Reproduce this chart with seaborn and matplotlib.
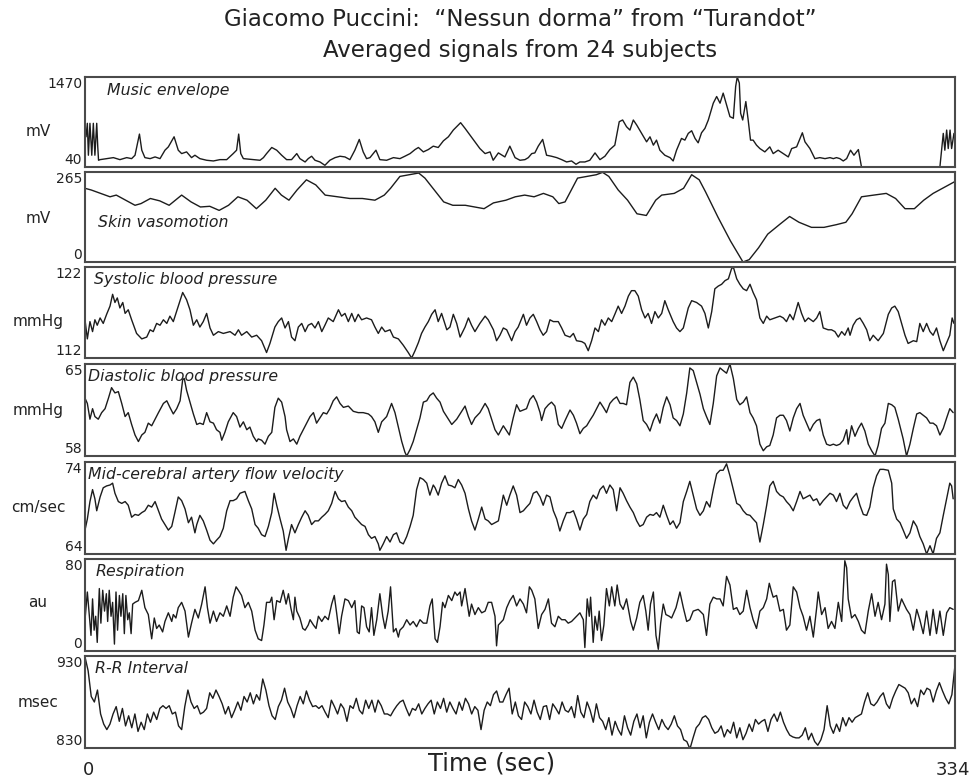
import numpy as np
import matplotlib
matplotlib.use("Agg")
import matplotlib.pyplot as plt
import seaborn as sns

sns.set_theme(style="white")
plt.rcParams["font.family"] = ["DejaVu Sans"]

# ---- averaged signals: (time in s, value) ----
music = [
    (0.4, 520), (0.9, 734), (1.3, 227), (1.9, 734), (2.6, 227), (3.2, 734), (3.8, 227), (4.5, 734),
    (4.9, 360), (5.2, 147), (5.8, 157), (8.3, 173), (10.9, 189), (13.4, 157), (16.0, 189), (17.9, 173),
    (19.2, 227), (20.9, 563), (21.8, 307), (23.0, 189), (25.0, 173), (26.9, 200), (28.8, 173), (30.7, 307),
    (32.0, 360), (34.2, 520), (35.8, 307), (37.1, 253), (39.0, 280), (40.9, 189), (42.2, 227), (44.1, 173),
    (46.7, 147), (49.3, 136), (51.8, 157), (54.4, 157), (56.9, 253), (58.2, 307), (59.0, 563), (59.8, 253),
    (60.8, 173), (64.6, 157), (67.2, 147), (68.5, 189), (69.7, 253), (71.7, 350), (73.6, 307), (75.5, 227),
    (77.4, 157), (79.3, 157), (81.3, 253), (82.5, 173), (84.5, 120), (85.7, 173), (87.0, 211), (88.3, 147),
    (90.2, 120), (92.1, 67), (94.0, 147), (96.0, 189), (97.9, 211), (99.8, 200), (101.7, 157), (103.6, 307),
    (105.3, 478), (106.8, 280), (108.1, 173), (109.4, 189), (111.7, 307), (113.2, 157), (115.8, 147),
    (118.4, 189), (120.9, 173), (122.8, 211), (124.8, 253), (126.7, 317), (128.0, 350), (129.9, 280),
    (131.8, 317), (133.7, 371), (135.6, 350), (137.6, 456), (139.5, 520), (141.4, 627), (143.3, 707),
    (144.2, 744), (145.9, 654), (147.8, 547), (149.7, 440), (151.6, 333), (153.6, 253), (155.5, 280),
    (156.7, 147), (158.7, 264), (161.2, 200), (163.1, 371), (165.1, 189), (167.0, 147), (168.9, 157),
    (170.2, 189), (171.5, 253), (172.7, 264), (174.0, 371), (175.7, 478), (177.2, 227), (179.1, 211),
    (181.1, 189), (183.0, 157), (184.9, 120), (186.8, 136), (188.5, 83), (190.0, 120), (191.9, 120),
    (193.8, 147), (195.8, 264), (197.7, 157), (199.6, 211), (201.5, 317), (203.4, 387), (205.1, 760),
    (206.4, 787), (207.9, 680), (209.2, 627), (210.5, 787), (211.8, 707), (213.7, 574), (215.6, 440),
    (216.9, 520), (218.2, 387), (219.4, 467), (220.7, 307), (222.6, 227), (224.6, 189), (225.8, 136),
    (227.1, 307), (229.0, 494), (230.3, 467), (231.6, 574), (232.9, 616), (234.2, 494), (235.4, 424),
    (236.7, 584), (238.0, 654), (239.3, 787), (241.2, 1054), (242.5, 1160), (243.8, 1054), (245.0, 1214),
    (246.3, 1027), (247.6, 840), (248.9, 814), (249.8, 1321), (250.4, 1470), (251.2, 1374), (251.7, 894),
    (252.5, 787), (253.7, 1080), (254.6, 787), (255.5, 467), (256.5, 467), (257.8, 387), (259.1, 333),
    (261.0, 280), (262.9, 360), (264.2, 253), (266.1, 307), (268.1, 253), (270.0, 200), (271.3, 333),
    (273.2, 360), (275.4, 584), (276.4, 440), (278.3, 333), (280.2, 173), (282.1, 189), (284.1, 173),
    (286.0, 189), (287.3, 173), (288.5, 189), (289.8, 173), (291.1, 136), (292.4, 173), (293.9, 307),
    (295.2, 227), (296.9, 317), (298.1, 40), (328.2, 40), (329.5, 574), (330.1, 307), (330.8, 627),
    (331.4, 333), (332.1, 627), (332.7, 333), (333.6, 574),
]

skin = [
    (0.0, 217), (2.4, 212), (6.0, 202), (9.6, 192), (12.0, 197), (15.6, 182), (19.2, 167), (21.5, 172),
    (25.1, 187), (28.7, 180), (32.3, 167), (37.1, 197), (40.7, 177), (44.3, 162), (47.9, 164), (51.5, 152),
    (55.1, 167), (58.7, 192), (62.2, 182), (65.8, 157), (69.4, 182), (73.0, 217), (75.4, 197), (78.3, 182),
    (81.4, 212), (85.0, 242), (88.6, 227), (92.2, 197), (97.0, 192), (101.7, 187), (106.5, 187),
    (111.3, 182), (114.9, 197), (117.3, 217), (120.9, 252), (124.5, 257), (128.1, 262), (130.5, 247),
    (134.1, 212), (137.7, 177), (141.2, 167), (146.0, 167), (149.6, 162), (153.2, 157), (156.8, 174),
    (161.6, 182), (165.2, 192), (168.8, 197), (172.4, 192), (176.0, 202), (179.6, 192), (181.9, 172),
    (184.3, 177), (186.7, 212), (189.1, 247), (192.7, 252), (196.3, 257), (198.7, 264), (201.1, 252),
    (204.7, 212), (208.3, 182), (211.9, 142), (215.5, 137), (219.1, 182), (221.4, 197), (226.2, 202),
    (229.8, 217), (232.9, 257), (235.8, 242), (238.2, 207), (243.0, 132), (247.8, 62), (252.6, 0),
    (255.0, 7), (258.6, 42), (262.1, 82), (266.9, 112), (270.5, 134), (274.1, 117), (278.9, 102),
    (283.7, 102), (288.5, 110), (292.1, 117), (294.5, 142), (298.1, 192), (302.8, 197), (307.6, 202),
    (311.2, 187), (314.8, 157), (318.4, 157), (322.0, 182), (325.6, 202), (329.2, 217), (334.0, 237),
]

systolic = [
    (0.0, 116.2), (0.9, 114.1), (1.9, 116.0), (2.9, 114.9), (3.8, 116.2), (4.7, 115.6), (5.8, 116.4),
    (7.0, 115.8), (8.3, 116.8), (9.6, 117.7), (10.6, 119.0), (11.5, 118.1), (12.4, 118.6), (13.4, 117.5),
    (14.5, 118.1), (15.4, 116.9), (16.6, 117.3), (17.9, 116.2), (19.8, 114.7), (21.8, 114.1), (23.7, 114.3),
    (25.0, 115.1), (26.2, 114.9), (27.5, 115.8), (28.8, 115.6), (30.1, 116.2), (31.4, 115.8), (32.6, 116.6),
    (33.9, 116.0), (35.8, 117.7), (37.5, 119.2), (39.0, 118.4), (40.3, 117.3), (41.6, 115.6), (42.9, 116.2),
    (44.1, 115.4), (45.4, 116.0), (46.7, 116.9), (48.0, 115.3), (49.3, 114.5), (51.2, 114.9), (53.1, 114.7),
    (55.7, 114.9), (57.6, 114.5), (58.9, 115.1), (60.1, 114.5), (62.1, 114.9), (64.0, 114.3), (65.9, 114.5),
    (67.8, 113.9), (69.7, 112.6), (71.0, 113.6), (72.9, 115.4), (74.2, 116.0), (75.5, 116.4), (76.8, 115.3),
    (78.1, 116.0), (79.3, 114.3), (80.6, 113.9), (81.9, 115.4), (83.2, 115.8), (84.5, 114.9), (85.7, 115.6),
    (87.0, 115.8), (88.3, 115.3), (89.6, 116.0), (90.9, 114.9), (92.1, 115.6), (93.4, 116.4), (95.3, 116.0),
    (97.3, 117.3), (98.5, 116.6), (99.8, 116.9), (101.1, 116.0), (102.4, 116.9), (103.6, 116.0),
    (104.9, 116.8), (106.2, 116.2), (108.1, 116.4), (110.0, 116.2), (111.3, 115.4), (112.6, 114.7),
    (113.9, 115.4), (115.2, 114.9), (117.1, 115.1), (118.4, 114.3), (120.3, 114.1), (122.2, 113.4),
    (124.1, 112.6), (125.4, 112.0), (126.7, 112.8), (128.0, 113.7), (129.2, 114.7), (130.5, 115.4),
    (131.8, 116.0), (133.1, 116.8), (134.4, 117.3), (135.6, 116.0), (136.9, 116.9), (138.9, 115.1),
    (140.1, 115.4), (141.4, 116.8), (142.7, 115.8), (144.0, 114.3), (145.9, 115.4), (147.2, 116.4),
    (148.4, 115.6), (149.7, 114.9), (151.6, 115.8), (153.6, 116.6), (154.8, 116.2), (156.8, 115.1),
    (158.0, 113.9), (159.3, 114.5), (160.6, 115.3), (161.9, 115.1), (163.8, 113.9), (165.1, 114.9),
    (166.3, 115.4), (168.3, 116.8), (169.5, 115.6), (170.8, 116.4), (172.1, 116.8), (173.4, 116.0),
    (174.7, 115.1), (175.9, 114.5), (177.2, 114.9), (178.5, 116.2), (179.8, 116.0), (181.7, 116.0),
    (183.0, 115.3), (184.3, 114.5), (186.2, 114.3), (187.5, 114.7), (188.7, 113.9), (190.7, 113.8),
    (191.9, 113.6), (193.2, 112.8), (194.5, 113.9), (195.8, 115.3), (197.1, 114.9), (198.3, 116.2),
    (199.6, 115.6), (200.9, 116.4), (202.2, 116.0), (203.4, 116.8), (204.7, 117.7), (206.0, 116.9),
    (207.3, 117.7), (208.6, 118.8), (209.8, 119.4), (211.1, 119.4), (212.4, 118.8), (213.7, 117.3),
    (215.0, 116.4), (216.2, 116.9), (217.5, 115.8), (218.8, 117.1), (220.1, 116.4), (221.4, 116.9),
    (222.6, 118.3), (223.9, 117.3), (225.8, 116.0), (227.1, 115.3), (228.4, 114.9), (229.7, 115.3),
    (231.6, 117.5), (232.9, 118.3), (234.8, 118.1), (236.7, 117.7), (238.0, 116.9), (239.3, 115.3),
    (240.6, 117.1), (241.8, 119.6), (243.1, 119.9), (244.4, 120.1), (245.7, 120.5), (247.0, 120.7),
    (248.2, 121.8), (248.9, 122.0), (250.2, 120.7), (251.4, 120.1), (252.7, 119.6), (254.0, 119.4),
    (255.3, 120.1), (256.5, 119.2), (257.8, 118.4), (259.1, 116.4), (260.4, 115.8), (261.7, 116.6),
    (262.9, 116.2), (264.9, 116.4), (266.8, 116.6), (268.1, 116.4), (269.3, 116.0), (270.6, 116.8),
    (271.9, 116.2), (273.8, 118.1), (275.1, 116.9), (276.4, 116.0), (277.7, 116.4), (279.6, 116.0),
    (280.9, 116.4), (282.1, 117.1), (283.4, 115.3), (285.3, 115.1), (286.6, 115.1), (287.9, 114.9),
    (289.2, 114.3), (290.5, 114.9), (291.7, 114.5), (293.0, 115.3), (293.7, 114.5), (294.9, 115.6),
    (296.2, 116.2), (297.5, 116.4), (298.8, 115.8), (300.1, 115.1), (301.3, 113.9), (302.6, 114.5),
    (304.5, 113.9), (306.5, 114.7), (308.4, 116.8), (309.7, 117.5), (310.9, 117.7), (312.2, 117.1),
    (313.5, 115.8), (314.8, 114.5), (316.0, 113.6), (318.0, 113.9), (319.3, 113.8), (320.5, 115.8),
    (321.8, 114.9), (323.1, 115.8), (324.4, 114.9), (325.6, 114.5), (326.9, 115.3), (328.2, 113.9),
    (329.5, 112.8), (330.8, 113.7), (332.0, 114.5), (332.9, 116.4), (333.6, 115.8),
]

diastolic = [
    (0.0, 62.4), (0.9, 62.0), (1.9, 60.8), (2.9, 61.6), (3.8, 61.0), (5.1, 60.8), (6.4, 61.3), (7.7, 61.6),
    (9.0, 62.4), (10.2, 63.2), (11.5, 62.8), (12.8, 62.9), (14.1, 62.0), (15.4, 61.0), (16.6, 61.3),
    (17.9, 60.4), (19.2, 59.6), (20.5, 59.1), (21.8, 59.6), (23.0, 59.8), (24.3, 60.5), (25.6, 60.3),
    (26.9, 60.8), (28.2, 61.3), (30.1, 62.0), (31.4, 62.2), (32.6, 61.7), (33.9, 61.2), (35.2, 61.6),
    (36.5, 62.2), (37.5, 63.8), (38.1, 63.9), (39.0, 63.0), (40.3, 62.1), (41.6, 61.2), (42.9, 60.4),
    (44.1, 60.5), (45.4, 60.4), (46.7, 61.3), (48.0, 60.6), (49.3, 60.5), (50.5, 60.0), (51.8, 59.8),
    (52.5, 59.2), (53.7, 59.8), (55.0, 60.6), (56.9, 61.3), (58.2, 61.0), (59.5, 60.2), (60.8, 60.6),
    (62.1, 60.0), (63.3, 60.2), (64.6, 59.5), (65.9, 59.1), (66.5, 59.3), (67.8, 59.2), (69.1, 58.9),
    (70.4, 59.5), (71.7, 59.8), (72.9, 61.7), (74.2, 62.4), (75.5, 62.1), (76.8, 61.0), (77.4, 60.0),
    (78.7, 59.1), (80.0, 59.3), (81.3, 58.9), (82.5, 59.5), (83.8, 60.0), (85.1, 60.5), (86.4, 61.0),
    (87.7, 61.3), (88.9, 60.5), (90.2, 60.9), (91.5, 61.3), (92.8, 61.2), (94.0, 61.6), (95.3, 62.2),
    (96.6, 62.5), (97.9, 62.0), (99.2, 61.7), (101.1, 61.8), (103.0, 61.4), (104.9, 61.3), (106.8, 61.3),
    (108.8, 61.2), (110.0, 61.0), (111.3, 60.6), (112.6, 59.8), (113.9, 60.6), (115.8, 61.0),
    (117.7, 62.0), (119.0, 61.3), (120.3, 60.2), (121.6, 59.1), (122.8, 58.3), (123.5, 58.0),
    (124.8, 58.5), (126.0, 59.1), (127.3, 60.0), (128.6, 60.9), (129.9, 62.1), (131.2, 62.2),
    (132.4, 62.6), (133.7, 62.8), (135.0, 62.4), (136.3, 62.1), (137.6, 61.4), (139.5, 60.8),
    (140.8, 60.4), (142.7, 60.8), (144.6, 61.4), (145.9, 61.8), (147.2, 61.0), (148.4, 60.4),
    (149.7, 60.9), (151.6, 61.3), (153.6, 62.0), (154.8, 61.6), (156.1, 60.8), (157.4, 60.0),
    (158.7, 59.6), (160.6, 60.3), (162.9, 59.6), (164.4, 60.9), (165.7, 61.9), (167.0, 61.4),
    (168.3, 61.5), (169.5, 61.6), (170.8, 62.3), (172.1, 62.6), (173.4, 62.1), (174.7, 61.3),
    (175.3, 60.7), (176.6, 61.6), (177.9, 61.9), (179.1, 62.1), (180.4, 61.8), (181.7, 60.4),
    (183.0, 60.1), (184.3, 60.7), (186.2, 61.5), (187.5, 61.1), (188.7, 60.5), (190.0, 59.7),
    (191.3, 60.1), (192.6, 60.3), (193.8, 60.7), (195.1, 61.1), (196.4, 61.6), (197.7, 62.1),
    (199.0, 61.7), (200.2, 61.3), (201.5, 62.0), (202.8, 62.3), (204.1, 62.5), (205.4, 62.0),
    (206.6, 62.0), (207.9, 61.9), (209.2, 63.6), (210.5, 64.0), (211.8, 63.5), (213.0, 62.3),
    (214.3, 60.7), (215.6, 60.4), (216.9, 59.9), (218.2, 60.7), (219.4, 61.2), (220.7, 60.5),
    (222.0, 61.7), (223.3, 62.5), (224.6, 61.9), (225.8, 60.9), (227.1, 60.7), (228.4, 60.3),
    (229.7, 61.2), (231.0, 62.8), (232.2, 64.7), (233.5, 64.5), (234.8, 63.6), (236.1, 62.7),
    (237.4, 61.6), (238.6, 61.0), (239.9, 60.4), (241.2, 62.0), (242.5, 64.1), (243.8, 64.7),
    (245.0, 64.5), (246.3, 64.3), (247.6, 65.0), (248.9, 63.9), (250.2, 62.3), (251.4, 61.9),
    (252.7, 62.1), (254.0, 62.5), (255.3, 61.3), (256.5, 60.9), (257.8, 60.3), (259.1, 58.9),
    (260.4, 58.4), (261.7, 58.7), (262.9, 58.8), (264.2, 59.6), (265.5, 60.9), (266.8, 61.1),
    (268.1, 61.1), (269.3, 60.7), (270.6, 59.9), (271.9, 60.9), (273.2, 61.6), (274.5, 62.0),
    (275.7, 61.1), (277.0, 60.5), (278.3, 59.9), (279.6, 60.4), (280.9, 60.7), (282.1, 60.8),
    (283.4, 59.6), (284.7, 58.9), (286.0, 58.8), (287.3, 58.9), (288.5, 58.8), (289.8, 58.9),
    (291.1, 59.2), (292.4, 60.0), (293.0, 58.9), (294.3, 60.3), (295.6, 59.5), (296.9, 60.1),
    (298.1, 60.5), (299.4, 59.9), (300.7, 58.9), (302.0, 58.4), (303.3, 58.0), (304.5, 58.8),
    (305.8, 60.1), (307.1, 60.5), (308.4, 62.0), (309.7, 61.9), (310.9, 61.7), (312.2, 60.8),
    (314.1, 59.3), (315.4, 58.0), (316.7, 58.9), (318.0, 60.1), (319.3, 61.2), (320.5, 61.3),
    (321.8, 61.1), (323.1, 60.9), (324.4, 60.5), (325.6, 60.5), (326.9, 60.3), (328.2, 59.6),
    (329.5, 60.1), (330.8, 60.9), (332.0, 61.6), (333.3, 61.3),
]

mca = [
    (0.0, 66.6), (0.9, 67.8), (1.9, 69.7), (2.9, 71.0), (3.8, 70.0), (4.5, 68.7), (5.8, 70.2), (7.0, 71.2),
    (8.3, 71.4), (9.6, 71.5), (10.6, 71.7), (11.5, 70.6), (12.8, 69.7), (14.1, 69.5), (15.4, 69.7),
    (16.6, 69.3), (17.9, 68.0), (19.2, 68.3), (20.5, 68.2), (21.8, 68.5), (23.0, 68.7), (24.3, 69.3),
    (25.6, 69.1), (26.9, 69.7), (28.2, 68.7), (29.4, 67.8), (30.7, 67.2), (32.0, 66.6), (33.3, 67.0),
    (34.5, 68.5), (35.8, 70.2), (37.1, 69.8), (38.4, 68.9), (39.7, 67.4), (40.9, 68.0), (42.2, 66.3),
    (42.9, 67.2), (44.1, 68.2), (45.4, 67.6), (46.7, 66.6), (48.0, 65.5), (49.3, 65.1), (50.5, 65.5),
    (51.8, 65.9), (53.1, 66.8), (54.4, 68.7), (55.7, 69.8), (56.9, 69.8), (58.2, 70.0), (59.5, 70.6),
    (61.4, 70.8), (62.7, 69.8), (64.0, 68.9), (65.3, 67.2), (66.5, 66.8), (67.8, 66.1), (69.1, 65.9),
    (70.4, 67.0), (71.7, 68.5), (72.6, 70.6), (73.6, 69.3), (74.9, 67.8), (76.1, 66.5), (77.2, 64.4),
    (78.1, 65.7), (79.3, 67.2), (80.6, 66.3), (81.9, 67.2), (83.2, 68.0), (84.5, 68.7), (85.7, 68.2),
    (87.0, 67.2), (88.3, 67.6), (89.6, 67.6), (90.9, 68.0), (92.1, 68.3), (93.4, 68.7), (94.7, 69.5),
    (96.0, 70.8), (97.3, 70.0), (98.5, 69.7), (99.8, 69.8), (101.1, 69.1), (102.4, 68.7), (103.6, 68.0),
    (104.9, 67.6), (106.2, 67.2), (107.5, 67.0), (108.8, 66.1), (110.0, 65.7), (111.3, 65.9),
    (112.6, 65.1), (113.2, 64.4), (114.5, 65.1), (115.8, 65.9), (117.1, 65.3), (118.4, 66.1),
    (119.6, 66.3), (120.9, 65.3), (122.2, 65.1), (123.5, 65.9), (124.8, 67.0), (126.0, 68.2),
    (127.3, 71.0), (128.6, 72.3), (129.9, 72.1), (131.2, 71.7), (132.4, 70.4), (133.7, 71.5),
    (134.4, 71.2), (135.6, 70.4), (136.9, 71.7), (138.2, 72.5), (139.5, 71.5), (140.8, 71.4),
    (142.0, 71.2), (143.3, 72.1), (144.6, 71.5), (145.9, 70.6), (147.2, 68.9), (148.4, 67.6),
    (149.7, 66.6), (151.0, 67.8), (152.3, 69.1), (153.6, 67.8), (154.8, 67.6), (156.1, 67.2),
    (157.4, 67.4), (158.7, 67.6), (160.6, 70.4), (161.9, 69.3), (163.1, 70.4), (164.4, 71.4),
    (165.7, 70.4), (167.0, 68.5), (168.3, 68.7), (169.5, 69.1), (170.8, 69.5), (172.1, 70.6),
    (173.4, 70.8), (174.7, 70.2), (175.9, 69.3), (177.2, 70.4), (178.5, 70.2), (179.8, 68.7),
    (181.1, 67.8), (182.3, 66.5), (183.6, 67.6), (184.9, 68.5), (186.2, 68.5), (187.5, 68.7),
    (188.7, 67.8), (190.0, 66.6), (191.3, 67.8), (192.6, 68.3), (193.8, 69.7), (195.1, 70.4),
    (196.4, 70.0), (197.7, 71.0), (199.0, 71.4), (200.2, 70.6), (201.5, 71.5), (202.8, 71.0),
    (204.1, 68.7), (205.4, 71.2), (206.6, 70.6), (207.9, 69.8), (209.2, 69.1), (210.5, 68.5),
    (211.8, 67.6), (213.0, 67.0), (214.3, 67.2), (215.6, 68.0), (216.9, 68.3), (218.2, 68.2),
    (219.4, 68.5), (220.7, 68.0), (222.0, 69.3), (223.3, 68.2), (224.6, 67.2), (225.8, 67.6),
    (227.1, 66.8), (228.4, 67.4), (229.7, 69.7), (231.0, 70.8), (232.2, 71.9), (233.5, 70.4),
    (234.8, 68.9), (236.1, 68.2), (237.4, 68.7), (238.6, 69.7), (239.9, 69.1), (241.2, 71.0),
    (242.5, 72.7), (243.8, 73.1), (245.0, 73.1), (246.3, 73.8), (247.6, 72.5), (248.9, 71.0),
    (250.2, 69.5), (251.4, 69.3), (252.7, 68.7), (254.0, 68.3), (255.3, 68.2), (256.5, 67.8),
    (257.8, 67.4), (259.1, 65.3), (260.4, 67.2), (261.7, 69.3), (262.9, 71.4), (264.2, 71.9),
    (265.5, 70.8), (266.8, 70.4), (268.1, 70.2), (269.3, 69.7), (270.6, 69.3), (271.9, 68.7),
    (273.2, 69.7), (274.5, 70.8), (275.7, 70.0), (277.0, 70.2), (278.3, 70.4), (279.6, 69.8),
    (280.9, 70.0), (282.1, 69.3), (283.4, 69.8), (284.7, 70.2), (286.0, 70.6), (287.3, 70.4),
    (288.5, 69.7), (289.8, 70.6), (291.1, 69.3), (292.4, 68.9), (293.7, 69.7), (295.0, 70.2),
    (296.2, 70.6), (297.5, 69.3), (298.8, 68.3), (300.1, 68.2), (301.3, 69.1), (302.6, 71.2),
    (303.9, 72.5), (305.2, 73.2), (306.5, 73.2), (308.4, 73.1), (309.7, 71.7), (310.3, 68.9),
    (311.6, 67.8), (312.9, 67.4), (314.1, 66.6), (315.4, 65.7), (316.7, 66.3), (318.0, 67.6),
    (319.3, 67.0), (320.5, 65.9), (321.8, 65.1), (323.1, 64.0), (324.4, 64.9), (325.6, 64.0),
    (326.9, 65.7), (328.2, 66.3), (329.5, 68.2), (330.8, 70.0), (332.0, 71.7), (332.7, 71.4),
    (333.3, 70.0),
]

respiration = [
    (0.0, 27.2), (0.9, 51.3), (1.7, 30.2), (2.3, 13.6), (2.9, 45.3), (3.5, 18.1), (4.1, 30.2), (4.7, 7.5),
    (5.5, 54.3), (6.1, 24.2), (6.8, 52.8), (7.5, 34.7), (8.2, 49.8), (8.7, 25.7), (9.3, 52.8), (10.0, 30.2),
    (10.6, 42.3), (11.3, 6.0), (11.9, 51.3), (12.5, 18.1), (13.2, 48.3), (13.8, 30.2), (14.5, 49.8),
    (15.1, 15.1), (15.7, 48.3), (16.4, 27.2), (17.0, 33.2), (17.7, 15.1), (18.3, 40.8), (19.2, 42.3),
    (20.5, 43.8), (21.8, 52.8), (23.0, 37.7), (24.3, 31.7), (25.6, 10.6), (26.6, 28.7), (27.5, 19.6),
    (28.5, 22.6), (29.8, 16.6), (30.7, 25.7), (32.0, 33.2), (33.3, 25.7), (33.9, 31.7), (34.9, 28.7),
    (35.8, 37.7), (37.1, 42.3), (38.4, 34.7), (39.7, 12.1), (40.9, 24.2), (42.2, 36.2), (43.5, 28.7),
    (44.8, 40.8), (46.1, 55.8), (47.0, 37.7), (48.0, 24.2), (49.3, 34.7), (50.5, 25.7), (51.8, 33.2),
    (53.1, 30.2), (54.4, 39.2), (55.7, 30.2), (56.9, 46.8), (58.0, 55.8), (58.9, 52.8), (60.1, 48.3),
    (61.4, 37.7), (62.7, 42.3), (64.0, 34.7), (65.3, 18.1), (66.5, 10.6), (67.8, 9.1), (68.7, 22.6),
    (69.7, 42.3), (71.0, 42.3), (71.7, 46.8), (72.6, 27.2), (73.6, 43.8), (74.9, 42.3), (76.1, 52.8),
    (77.2, 40.8), (78.1, 49.8), (79.0, 37.7), (80.0, 27.2), (80.6, 46.8), (81.3, 34.7), (82.5, 28.7),
    (83.6, 19.6), (84.5, 18.1), (85.7, 22.6), (86.4, 27.2), (87.7, 22.6), (88.7, 19.6), (89.6, 30.2),
    (90.9, 25.7), (92.1, 30.2), (93.4, 27.2), (94.7, 40.8), (95.7, 48.3), (96.6, 33.2), (97.6, 15.1),
    (98.5, 30.2), (99.8, 45.3), (101.1, 43.8), (102.4, 37.7), (103.6, 43.8), (104.5, 16.6), (105.3, 15.1),
    (106.2, 39.2), (107.1, 37.7), (108.1, 21.1), (109.1, 16.6), (110.0, 37.7), (110.9, 13.6), (112.0, 27.2),
    (113.2, 49.8), (114.3, 30.2), (115.2, 19.6), (116.4, 34.7), (117.3, 55.8), (118.4, 16.6), (119.4, 19.6),
    (120.3, 12.1), (120.9, 18.1), (122.2, 21.1), (123.5, 27.2), (124.8, 22.6), (126.0, 25.7), (127.3, 21.1),
    (128.6, 27.2), (129.9, 24.2), (131.2, 24.2), (132.4, 39.2), (133.3, 45.3), (134.4, 10.6), (135.3, 7.5),
    (136.3, 21.1), (137.3, 42.3), (138.2, 37.7), (139.5, 48.3), (140.8, 43.8), (142.0, 51.3), (142.9, 48.3),
    (144.0, 51.3), (144.6, 39.2), (145.9, 54.3), (146.5, 45.3), (147.5, 30.2), (148.4, 40.8), (149.7, 31.7),
    (151.0, 37.7), (152.3, 33.2), (153.6, 34.7), (154.8, 42.3), (156.1, 42.3), (157.4, 30.2), (158.0, 4.5),
    (158.7, 22.6), (160.6, 27.2), (161.9, 37.7), (163.1, 43.8), (164.4, 48.3), (165.7, 39.2), (167.0, 45.3),
    (168.3, 40.8), (169.5, 33.2), (170.6, 55.8), (171.5, 52.8), (172.7, 45.3), (174.0, 19.6), (175.3, 31.7),
    (176.6, 36.2), (177.9, 45.3), (179.1, 24.2), (180.4, 21.1), (181.7, 30.2), (183.0, 27.2), (184.3, 27.2),
    (185.5, 24.2), (186.8, 25.7), (188.7, 30.2), (190.0, 33.2), (191.3, 27.2), (191.9, 3.0), (192.8, 45.3),
    (193.6, 30.2), (194.1, 46.8), (195.1, 7.5), (195.8, 30.2), (196.7, 18.1), (197.4, 34.7), (198.3, 9.1),
    (199.2, 22.6), (200.2, 54.3), (201.3, 39.2), (202.2, 55.8), (203.4, 39.2), (204.3, 57.4), (205.4, 40.8),
    (206.6, 36.2), (207.9, 45.3), (209.5, 25.7), (210.5, 18.1), (211.8, 28.7), (213.0, 42.3), (214.3, 48.3),
    (215.3, 34.7), (216.2, 18.1), (217.1, 40.8), (218.2, 51.3), (219.2, 13.6), (220.1, 1.5), (221.0, 24.2),
    (222.0, 40.8), (223.0, 31.7), (224.3, 30.2), (225.2, 28.7), (226.9, 37.7), (228.4, 51.3), (229.7, 37.7),
    (231.0, 25.7), (232.2, 27.2), (233.5, 34.7), (235.4, 36.2), (236.1, 34.7), (237.4, 31.7), (238.6, 13.6),
    (239.9, 40.8), (241.2, 46.8), (242.5, 45.3), (243.8, 45.3), (245.0, 39.2), (246.3, 64.9), (247.6, 57.4),
    (248.9, 36.2), (250.2, 37.7), (251.4, 31.7), (252.7, 34.7), (254.0, 52.8), (255.3, 37.7), (256.5, 27.2),
    (257.8, 19.6), (259.1, 34.7), (260.4, 37.7), (261.7, 45.3), (262.7, 58.9), (263.6, 51.3), (264.2, 46.8),
    (265.5, 48.3), (266.8, 34.7), (268.1, 36.2), (269.3, 18.1), (270.6, 22.6), (271.9, 55.8), (273.2, 51.3),
    (274.5, 37.7), (275.7, 30.2), (277.0, 18.1), (278.3, 30.2), (279.6, 12.1), (280.9, 37.7), (281.5, 51.3),
    (282.8, 31.7), (284.1, 37.7), (285.3, 19.6), (286.6, 25.7), (287.9, 19.6), (289.2, 42.3), (290.5, 25.7),
    (291.7, 78.5), (292.4, 72.5), (293.0, 45.3), (294.3, 28.7), (295.6, 31.7), (296.9, 25.7), (298.1, 18.1),
    (299.4, 15.1), (300.7, 34.7), (302.0, 49.8), (303.3, 30.2), (304.5, 42.3), (305.8, 27.2), (307.1, 40.8),
    (307.7, 75.5), (308.4, 66.4), (309.0, 25.7), (310.0, 60.4), (310.9, 61.9), (312.2, 34.7), (313.5, 45.3),
    (314.1, 42.3), (315.4, 36.2), (316.7, 31.7), (318.0, 18.1), (319.3, 36.2), (320.5, 27.2), (321.8, 15.1),
    (323.1, 34.7), (324.4, 13.6), (325.6, 36.2), (326.9, 15.1), (328.2, 34.7), (329.5, 13.6), (330.8, 33.2),
    (332.0, 37.7), (333.3, 36.2),
]

# R-R interval, evenly sampled across the 334 s recording
rr = [
    929, 914, 886, 880, 893, 867, 856, 850, 856, 867, 875, 859, 873, 854, 865, 852, 867, 848, 858, 850,
    867, 858, 869, 861, 873, 876, 873, 876, 867, 869, 854, 850, 875, 893, 880, 873, 876, 867, 869, 873,
    890, 884, 893, 886, 878, 867, 875, 863, 871, 880, 871, 886, 880, 890, 878, 888, 882, 905, 893, 876,
    865, 861, 875, 882, 895, 880, 873, 863, 876, 886, 878, 892, 882, 875, 876, 873, 876, 869, 863, 882,
    875, 867, 878, 873, 859, 876, 873, 884, 871, 867, 882, 873, 882, 869, 882, 876, 867, 867, 865, 871,
    876, 880, 882, 873, 865, 873, 871, 878, 867, 873, 878, 882, 867, 880, 873, 884, 869, 880, 873, 867,
    880, 871, 884, 878, 867, 875, 871, 850, 871, 880, 876, 888, 892, 880, 880, 888, 895, 867, 880, 865,
    861, 880, 875, 867, 882, 869, 861, 875, 876, 861, 878, 873, 867, 880, 871, 869, 875, 863, 887, 869,
    863, 880, 871, 858, 878, 863, 859, 850, 863, 844, 859, 850, 844, 865, 852, 844, 859, 867, 852, 865,
    841, 858, 867, 858, 850, 861, 854, 850, 856, 865, 854, 850, 839, 837, 829, 841, 852, 856, 863, 865,
    861, 852, 846, 848, 854, 842, 850, 846, 858, 841, 852, 839, 846, 856, 848, 861, 856, 859, 861, 848,
    861, 867, 859, 869, 858, 850, 844, 842, 841, 841, 844, 852, 839, 846, 837, 833, 839, 850, 876, 854,
    846, 856, 848, 863, 854, 863, 858, 863, 865, 867, 880, 890, 878, 876, 880, 886, 890, 878, 873, 884,
    892, 899, 897, 895, 890, 878, 884, 875, 893, 888, 895, 893, 880, 892, 901, 892, 884, 878, 888, 920,
]

panel_names = ["Music envelope", "Skin vasomotion", "Systolic blood pressure",
               "Diastolic blood pressure", "Mid-cerebral artery flow velocity",
               "Respiration", "R-R Interval"]
units = ["mV", "mV", "mmHg", "mmHg", "cm/sec", "au", "msec"]
y_ranges = [(40, 1470), (0, 265), (112, 122), (58, 65), (64, 74), (0, 80), (830, 930)]
duration = 334

rr_time = np.linspace(0, duration, len(rr))
series = [music, skin, systolic, diastolic, mca, respiration,
          list(zip(rr_time, rr))]

# ---- layout (pixel geometry of the 975x780 canvas) ----
W, H = 975, 780
left_px, right_px = 85, 955
rows_px = [(77, 167), (172, 262), (267, 358), (364, 456), (462, 554), (559, 651), (656, 748)]
title_pos = [(0.025, 0.93), (0.015, 0.52), (0.010, 0.95), (0.004, 0.95),
             (0.004, 0.95), (0.012, 0.95), (0.012, 0.95)]
unit_y = [0.40, 0.48, 0.40, 0.50, 0.51, 0.53, 0.49]

line_col = "#1c1c1c"
frame_col = "#4a4a4a"

fig = plt.figure(figsize=(W / 100, H / 100), dpi=100)

for i, (name, unit, (lo, hi), data) in enumerate(zip(panel_names, units, y_ranges, series)):
    top, bot = rows_px[i]
    ax = fig.add_axes([left_px / W, 1 - bot / H, (right_px - left_px) / W, (bot - top) / H])
    t = [p[0] for p in data]
    v = [p[1] for p in data]
    sns.lineplot(x=t, y=v, ax=ax, color=line_col, linewidth=1.0,
                 estimator=None, sort=False)
    ax.set_xlim(0, duration)
    ax.set_ylim(lo, hi)
    ax.set_xticks([])
    ax.set_xlabel("")
    ax.set_yticks([lo, hi])
    ax.set_yticklabels([str(lo), str(hi)])
    ax.tick_params(axis="y", length=0, pad=2, labelsize=10, labelcolor="#222222")
    tl = ax.get_yticklabels()
    tl[0].set_va("bottom")
    tl[1].set_va("top")
    ax.set_ylabel(unit, rotation=0, fontsize=11, color="#222222", ha="center", va="center")
    ax.yaxis.set_label_coords(-0.054, unit_y[i])
    for sp in ax.spines.values():
        sp.set_visible(True)
        sp.set_color(frame_col)
        sp.set_linewidth(1.5)
    tx, ty = title_pos[i]
    ax.text(tx, ty, name, transform=ax.transAxes, style="italic", fontsize=11.3,
            color="#222222", ha="left", va="top")

fig.text(520 / W, 1 - 20 / H, "Giacomo Puccini:  \u201cNessun dorma\u201d from \u201cTurandot\u201d",
         ha="center", va="center", fontsize=16.5, color="#222222")
fig.text(520 / W, 1 - 50 / H, "Averaged signals from 24 subjects",
         ha="center", va="center", fontsize=16.5, color="#222222")
fig.text(492 / W, 1 - 764 / H, "Time (sec)", ha="center", va="center", fontsize=17.5, color="#222222")
fig.text(88 / W, 1 - 770 / H, "0", ha="center", va="center", fontsize=13, color="#222222")
fig.text(970 / W, 1 - 770 / H, "334", ha="right", va="center", fontsize=13, color="#222222")

fig.savefig("out.png", dpi=100, facecolor="white")
